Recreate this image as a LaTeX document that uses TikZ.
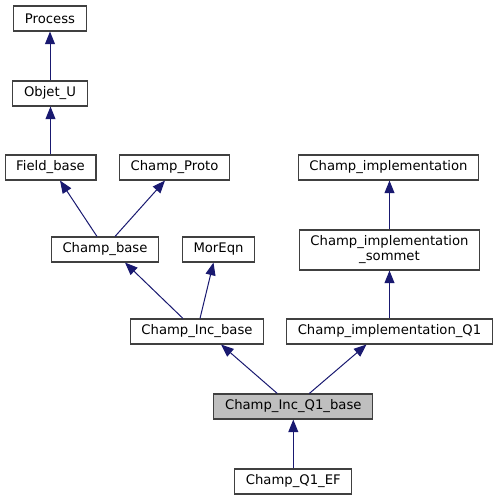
\documentclass[tikz,border=0pt]{standalone}
\usepackage{fontspec}
\setmainfont{DejaVu Sans}
\usetikzlibrary{arrows.meta,calc}

\definecolor{edgeblue}{HTML}{191970}
\definecolor{focusgray}{HTML}{BFBFBF}

\begin{document}
\begin{tikzpicture}[x=0.75pt, y=-0.75pt,
		cls/.style = {draw=black!75, line width=0.8pt, fill=white, inner xsep=8.4pt, inner ysep=0pt,
			minimum height=18.75pt, align=center, font=\fontsize{9.9}{11.3}\selectfont},
		inherit/.style = {draw=edgeblue, line width=0.75pt, -{Triangle[length=9.5pt, width=7.5pt]}}]
		\useasboundingbox (0,0) rectangle (497,500);

		% classes (centres in pixels of the graph)
		\node[cls] (process) at (50,18.5) {Process};
		\node[cls] (objet) at (50,93.5) {Objet\_U};
		\node[cls] (fbase) at (50.5,167.5) {Field\_base};
		\node[cls] (proto) at (174.5,167.5) {Champ\_Proto};
		\node[cls] (impl) at (388.5,167.5) {Champ\_implementation};
		\node[cls] (cbase) at (105,249.5) {Champ\_base};
		\node[cls] (moreqn) at (218.5,249.5) {MorEqn};
		\node[cls, minimum height=30pt] (sommet) at (389.5,250) {Champ\_implementation\\\_sommet};
		\node[cls] (incbase) at (197,331.5) {Champ\_Inc\_base};
		\node[cls] (implqone) at (389.5,331.5) {Champ\_implementation\_Q1};
		\node[cls, fill=focusgray] (incqone) at (293.3,406.5) {Champ\_Inc\_Q1\_base};
		\node[cls] (qoneef) at (293.3,481.5) {Champ\_Q1\_EF};

		% straight inheritance
		\foreach \child / \parent in {objet/process, fbase/objet, sommet/impl, implqone/sommet, qoneef/incqone}{
			\draw[inherit] (\child.north) -- (\child.north |- \parent.south);
		}

		% slanted inheritance (offsets from the anchors)
		\foreach \child / \parent / \dc / \dp in {%
			cbase/fbase/-8/9.5,
			cbase/proto/10/-9.5,
			incbase/cbase/-14/20,
			incbase/moreqn/3/-5,
			incqone/incbase/-16/24,
			incqone/implqone/16/-23%
		}{
			\draw[inherit] ($(\child.north)+(\dc,0)$) -- ($(\parent.south)+(\dp,0)$);
		}

	\end{tikzpicture}
\end{document}
